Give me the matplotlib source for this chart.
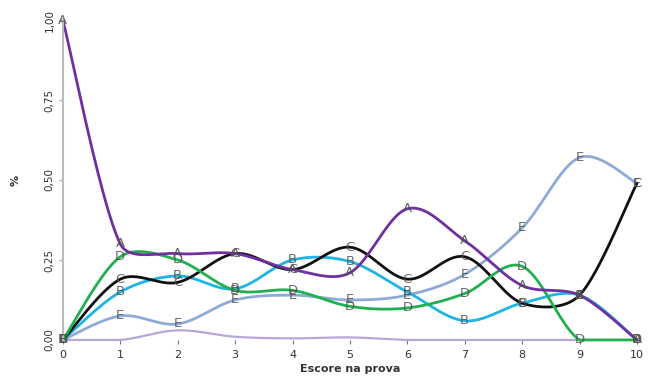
import numpy as np
import matplotlib
matplotlib.use('Agg')
import matplotlib.pyplot as plt

escore = [0, 1, 2, 3, 4, 5, 6, 7, 8, 9, 10]
serie_a = [1.00, 0.30, 0.27, 0.27, 0.22, 0.21, 0.41, 0.31, 0.17, 0.14, 0.00]
serie_b = [0.00, 0.15, 0.20, 0.16, 0.25, 0.245, 0.15, 0.06, 0.115, 0.14, 0.00]
serie_c = [0.00, 0.19, 0.18, 0.27, 0.22, 0.29, 0.19, 0.26, 0.115, 0.14, 0.49]
serie_d = [0.00, 0.26, 0.25, 0.155, 0.155, 0.105, 0.10, 0.145, 0.23, 0.00, 0.00]
serie_e = [0.00, 0.075, 0.05, 0.125, 0.14, 0.125, 0.14, 0.205, 0.35, 0.57, 0.49]
serie_omit = [0.00, 0.00, 0.03, 0.01, 0.005, 0.008, 0.00, 0.00, 0.00, 0.00, 0.00]

series = [
    ('A', serie_a, '#7030a0'),
    ('D', serie_d, '#21b050'),
    ('C', serie_c, '#111111'),
    ('B', serie_b, '#1fb4e6'),
    ('E', serie_e, '#8faad8'),
    (None, serie_omit, '#b7a6d8'),
]

# escala aproximada em pixels, para suavizar como o excel
SX, SY = 57.4, 320.0


def suavizar(x, y, n=40):
    p = np.column_stack([np.asarray(x, float) * SX, np.asarray(y, float) * SY])
    m = len(p)
    d = np.zeros_like(p)
    c = np.zeros(m)
    for i in range(m):
        v = p[min(i + 1, m - 1)] - p[max(i - 1, 0)]
        c[i] = np.hypot(*v) / 6
        d[i] = v / np.hypot(*v)
    t = np.linspace(0, 1, n)[:, None]
    out = []
    for i in range(m - 1):
        p0, p3 = p[i], p[i + 1]
        L = np.hypot(*(p3 - p0))
        p1 = p0 + d[i] * min(c[i], L / 3)
        p2 = p3 - d[i + 1] * min(c[i + 1], L / 3)
        b = (1 - t) ** 3 * p0 + 3 * (1 - t) ** 2 * t * p1 + 3 * (1 - t) * t ** 2 * p2 + t ** 3 * p3
        out.append(b)
    out = np.vstack(out)
    return out[:, 0] / SX, np.maximum(out[:, 1] / SY, 0)


fig = plt.figure(figsize=(6.48, 3.85), dpi=100)
ax = fig.add_axes([0.097, 0.117, 0.886, 0.831])

for letra, vals, cor in series[::-1]:
    sx, sy = suavizar(escore, vals)
    ax.plot(sx, sy, color=cor, lw=2 if letra else 1.6, clip_on=False,
            solid_capstyle='round')

for letra, vals, cor in series:
    if letra is None:
        continue
    for xi, yi in zip(escore, vals):
        ax.text(xi, yi, letra, ha='center', va='center', fontsize=9.5,
                color='#505050', alpha=0.85)

ax.set_xlim(0, 10)
ax.set_ylim(0, 1.0)
ax.set_xticks(escore)
ax.set_yticks([0, 0.25, 0.5, 0.75, 1.0])
ax.set_yticklabels(['0,00', '0,25', '0,50', '0,75', '1,00'], rotation=90,
                   va='center', fontsize=7.5, color='#333333')
ax.set_xticklabels([str(v) for v in escore], fontsize=8, color='#333333')
ax.tick_params(axis='x', length=3, color='#777777', pad=4)
ax.tick_params(axis='y', length=3, color='#aaaaaa', pad=3)
for s in ['top', 'right', 'bottom']:
    ax.spines[s].set_visible(False)
ax.spines['left'].set_color('#bbbbbb')
ax.spines['left'].set_linewidth(1.5)
ax.set_xlabel('Escore na prova', fontsize=8, fontweight='bold', color='#333333',
              labelpad=3)
ax.set_ylabel('%', fontsize=8, fontweight='bold', color='#333333', labelpad=17)

fig.savefig('out.png', dpi=100)
